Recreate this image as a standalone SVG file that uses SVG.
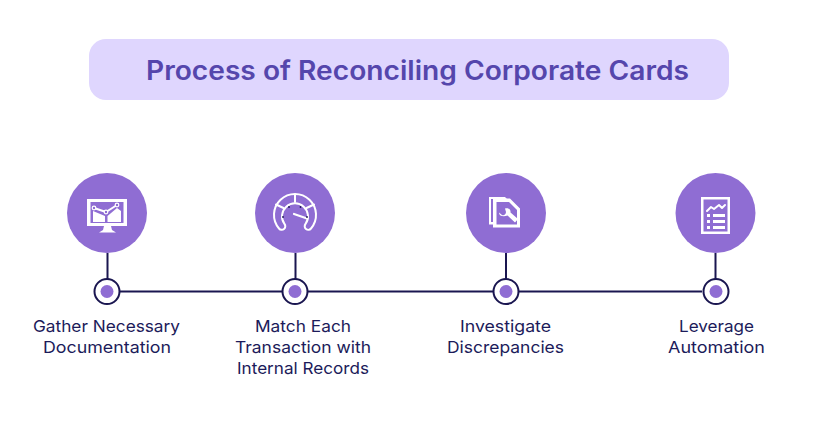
<svg xmlns="http://www.w3.org/2000/svg" width="818" height="443" viewBox="0 0 818 443">
<style>
.t{font-family:"Inter","Noto Sans","Liberation Sans",sans-serif}
.title{font-size:26.500px;font-weight:600;fill:#5546ac}
.lab{font-size:16.500px;font-weight:400;fill:#1c1b5a;text-anchor:middle}
.big{fill:#8f6dd3}
.ring{fill:#fff;stroke:#1a1650;stroke-width:2}
.dot{fill:#8f6dd3}
.w{fill:#fff}
.ws{fill:none;stroke:#fff;stroke-width:2;stroke-linejoin:round;stroke-linecap:round}
.c{fill:none;stroke:#1a1650;stroke-width:2}
.n{fill:#8f6dd3;stroke:#fff;stroke-width:1.200}
</style>
<rect width="818" height="443" fill="#fff"/>
<g id="title">
<rect x="89" y="39" width="640" height="61" rx="17" fill="#dfd6fe"/>
<text class="t title" x="146" y="79.500" textLength="543" lengthAdjust="spacingAndGlyphs">Process of Reconciling Corporate Cards</text>
</g>
<g id="connectors">
<path class="c" d="M107.500 253V280M295.500 253V280M506 253V280M715.500 253V280M120 291.500H702"/>
</g>
<g id="node1">
<circle class="big" cx="107" cy="213" r="40"/>
<path class="w" d="M87 199H127V226H111L112 230L116 232.500H99L103 230L104 226H87ZM90.500 202V223H123.500V202Z"/>
<path class="w" d="M93 211L105 216V222H93ZM107.500 216L117 208L121 211V222H107.500Z"/>
<path class="ws" d="M94 208L106 212L117 205" stroke-width="1.200"/>
<circle class="n" cx="94" cy="208" r="1.800"/><circle class="n" cx="106" cy="212" r="1.800"/><circle class="n" cx="117" cy="205" r="1.800"/>
<circle class="ring" cx="107" cy="291.500" r="12.500"/>
<circle class="dot" cx="107" cy="291.500" r="6.500"/>
<text class="t lab" x="106.500" y="331.500" textLength="147" lengthAdjust="spacingAndGlyphs">Gather Necessary</text>
<text class="t lab" x="107" y="352.500" textLength="128" lengthAdjust="spacingAndGlyphs">Documentation</text>
</g>
<g id="node2">
<circle class="big" cx="295" cy="213" r="40"/>
<path class="ws" d="M279 228.500A21 21 0 1 1 311 228.500A3.500 3.500 0 0 1 305.500 224A13 13 0 1 0 284.500 224A3.500 3.500 0 0 1 279 228.500Z"/>
<path class="ws" d="M283.500 208L276 204.500M295 202V194.500M306.500 208L314 204.500" stroke-width="1.800"/>
<path d="M294 214L307 218.500" fill="none" stroke="#fff" stroke-width="2.200" stroke-linecap="round"/>
<g fill="#1a1650"><circle cx="283" cy="217" r=".9"/><circle cx="289" cy="207" r=".9"/><circle cx="300.500" cy="207" r=".9"/><circle cx="307" cy="217" r=".9"/></g>
<circle class="ring" cx="295" cy="291.500" r="12.500"/>
<circle class="dot" cx="295" cy="291.500" r="6.500"/>
<text class="t lab" x="303" y="331.500" textLength="96" lengthAdjust="spacingAndGlyphs">Match Each</text>
<text class="t lab" x="303" y="352.500" textLength="136" lengthAdjust="spacingAndGlyphs">Transaction with</text>
<text class="t lab" x="303" y="373.500" textLength="132" lengthAdjust="spacingAndGlyphs">Internal Records</text>
</g>
<g id="node3">
<circle class="big" cx="506" cy="213" r="40"/>
<path class="w" d="M489 197H505L507 199H491V222H493V224.500H489Z"/>
<path class="w" d="M493 198.500H510L520 208.500V227.500H493ZM496.500 202V224.500H517V210L509 202Z"/>
<path class="w" d="M499 212.500L502 215C504 216 506 214 506 212L505 208.500C508 207.500 511 209 510.500 212.500L518 219L515 222.500L507.500 215.500C504 217 499 216.500 499 212.500Z"/>
<circle class="ring" cx="506" cy="291.500" r="12.500"/>
<circle class="dot" cx="506" cy="291.500" r="6.500"/>
<text class="t lab" x="505.500" y="331.500" textLength="91" lengthAdjust="spacingAndGlyphs">Investigate</text>
<text class="t lab" x="505.500" y="352.500" textLength="117" lengthAdjust="spacingAndGlyphs">Discrepancies</text>
</g>
<g id="node4">
<circle class="big" cx="715.500" cy="213" r="40"/>
<path class="w" d="M701 197H730V234H701ZM703.500 199.500V231.500H727.500V199.500Z"/>
<path class="ws" d="M707 211L711 207L714 209L719 205L722 208L725 205" stroke-width="1.800"/>
<path class="w" d="M707 214H710V217H707ZM713 214H725V217H713ZM707 220H710V223H707ZM713 220H725V223H713ZM707 226H710V229H707ZM713 226H725V229H713Z"/>
<circle class="ring" cx="716" cy="291.500" r="12.500"/>
<circle class="dot" cx="716" cy="291.500" r="6.500"/>
<text class="t lab" x="716.500" y="331.500" textLength="75" lengthAdjust="spacingAndGlyphs">Leverage</text>
<text class="t lab" x="716.500" y="352.500" textLength="97" lengthAdjust="spacingAndGlyphs">Automation</text>
</g>
</svg>
